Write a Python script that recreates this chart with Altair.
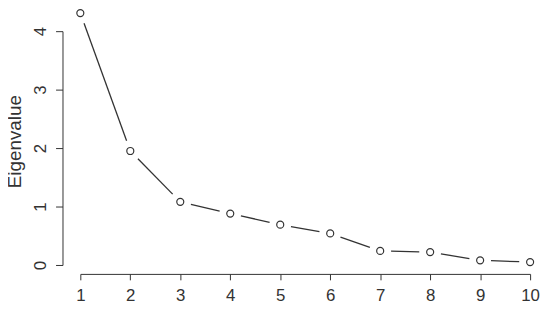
import altair as alt
import pandas as pd

components = [1, 2, 3, 4, 5, 6, 7, 8, 9, 10]
eigenvalues = [4.31, 1.95, 1.08, 0.88, 0.69, 0.54, 0.24, 0.22, 0.08, 0.05]
y_ticks = [0, 1, 2, 3, 4]
x_ticks = components

df = pd.DataFrame({"Component": components, "Eigenvalue": eigenvalues})

FONT = "Liberation Sans"
INK = "#333333"
W, H = 454, 236
X_DOM, Y_DOM = [1, 10], [0, 4]
GAP = 11  # px gap between line segments and point centres (R type="b")
PX_X = W / (X_DOM[1] - X_DOM[0])
PX_Y = H / (Y_DOM[1] - Y_DOM[0])

x_axis = alt.Axis(
    values=x_ticks, title=None, grid=False, offset=9, tickSize=6,
    labelFontSize=17, labelFont=FONT, labelColor=INK, labelBaseline="alphabetic",
    labelPadding=21, domainColor=INK, tickColor=INK, labelFlush=False,
    labelOverlap=False,
)
y_axis = alt.Axis(
    values=y_ticks, title="Eigenvalue", grid=False, offset=18, tickSize=7,
    labelFontSize=17, labelFont=FONT, labelColor=INK, labelAngle=270,
    labelAlign="center", labelBaseline="alphabetic", labelPadding=10,
    labelFlush=False, labelOverlap=False,
    titleFont=FONT, titleFontSize=19, titleFontWeight="normal", titleColor=INK,
    titleAngle=270, titleBaseline="alphabetic", titleAlign="center",
    titleX=-42, titleY=111,
    domainColor=INK, tickColor=INK,
)
x_scale = alt.Scale(domain=X_DOM, nice=False, zero=False)
y_scale = alt.Scale(domain=Y_DOM, nice=False, zero=False)

segments = (
    alt.Chart(df)
    .transform_window(next_x="lead(Component)", next_y="lead(Eigenvalue)",
                      sort=[alt.SortField("Component")])
    .transform_filter("datum.next_x != null")
    .transform_calculate(
        dxp=f"(datum.next_x - datum.Component) * {PX_X}",
        dyp=f"(datum.next_y - datum.Eigenvalue) * {PX_Y}",
    )
    .transform_calculate(t=f"{GAP} / sqrt(datum.dxp * datum.dxp + datum.dyp * datum.dyp)")
    .transform_calculate(
        xs="datum.Component + (datum.next_x - datum.Component) * datum.t",
        ys="datum.Eigenvalue + (datum.next_y - datum.Eigenvalue) * datum.t",
        xe="datum.next_x - (datum.next_x - datum.Component) * datum.t",
        ye="datum.next_y - (datum.next_y - datum.Eigenvalue) * datum.t",
    )
    .mark_rule(color=INK, strokeWidth=1.3)
    .encode(
        x=alt.X("xs:Q", scale=x_scale, axis=x_axis),
        y=alt.Y("ys:Q", scale=y_scale, axis=y_axis),
        x2="xe:Q",
        y2="ye:Q",
    )
)

pts = alt.Chart(df).mark_point(
    shape="circle", filled=False, stroke=INK, fill="#ffffff",
    fillOpacity=1, size=50, strokeWidth=1.2, opacity=1,
).encode(
    x=alt.X("Component:Q", scale=x_scale, axis=x_axis),
    y=alt.Y("Eigenvalue:Q", scale=y_scale, axis=y_axis),
)

chart = alt.layer(segments, pts).properties(
    width=W,
    height=H,
    autosize=alt.AutoSizeParams(type="none"),
    padding={"left": 73, "top": 22, "right": 12, "bottom": 38},
).configure_view(stroke=None)

chart.save("out.html", embed_options={"renderer": "svg", "actions": False})
